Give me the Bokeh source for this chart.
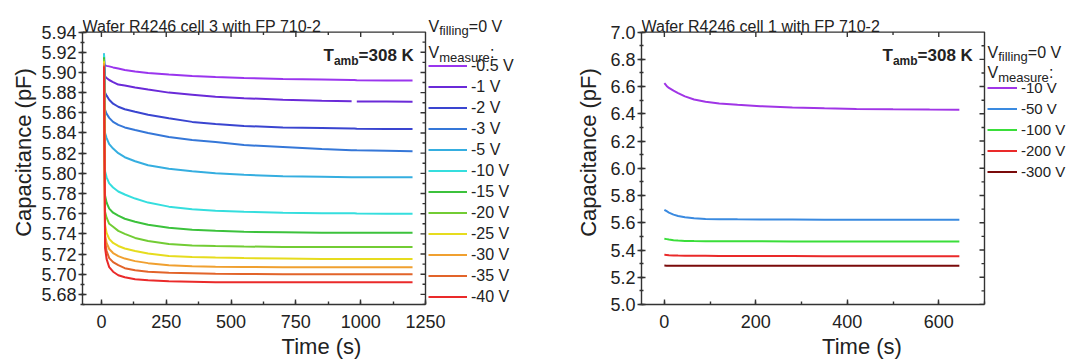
import numpy as np
from bokeh.plotting import figure
from bokeh.models import (Range1d, LinearAxis, SingleIntervalTicker, Label,
                          Legend, LegendItem, PrintfTickFormatter)
from bokeh.layouts import row
from bokeh.embed import file_html
from bokeh.resources import INLINE

nan = float("nan")
FONT = "Liberation Sans"
TXT = "#222222"
AX = "#333333"

# ---------------- data: left panel (cell 3) ----------------
LEFT_TITLE = "Wafer R4246 cell 3 with FP 710-2"
LEFT_LABELS = ["-0.5 V", "-1 V", "-2 V", "-3 V", "-5 V", "-10 V", "-15 V",
               "-20 V", "-25 V", "-30 V", "-35 V", "-40 V"]
LEFT_COLORS = ["#9a35ee", "#6a2ad8", "#3a45d0", "#3577d8", "#35aee0", "#35dede",
               "#3cc23c", "#72cc34", "#e6dc1e", "#f0a030", "#e2642a", "#ea2a2a"]
T_LEFT = [10, 14, 20, 30, 45, 65, 90, 130, 180, 260, 350, 440, 550, 700, 850,
          965, 975, 985, 1100, 1200]
C_m0p5 = [5.908, 5.907, 5.9065, 5.906, 5.905, 5.904, 5.9025, 5.901, 5.8995, 5.898,
          5.8965, 5.8955, 5.8945, 5.8935, 5.893, 5.8925, 5.8925, 5.8923, 5.892, 5.892]
C_m1 = [5.912, 5.896, 5.8945, 5.8925, 5.8905, 5.888, 5.887, 5.885, 5.883, 5.880,
        5.878, 5.876, 5.8745, 5.873, 5.872, 5.8715, nan, 5.8713, 5.8712, 5.871]
C_m2 = [5.916, 5.880, 5.877, 5.873, 5.869, 5.866, 5.8635, 5.861, 5.858, 5.8545,
        5.851, 5.849, 5.847, 5.8455, 5.845, 5.8445, 5.8445, 5.8443, 5.844, 5.844]
C_m3 = [5.918, 5.863, 5.859, 5.855, 5.851, 5.848, 5.8455, 5.843, 5.840, 5.836,
        5.833, 5.831, 5.828, 5.826, 5.824, 5.823, 5.823, 5.8228, 5.8225, 5.822]
C_m5 = [5.919, 5.840, 5.835, 5.829, 5.8245, 5.820, 5.816, 5.812, 5.808, 5.8045,
        5.802, 5.800, 5.7985, 5.797, 5.7965, 5.796, 5.796, 5.796, 5.796, 5.796]
C_m10 = [5.918, 5.802, 5.796, 5.790, 5.786, 5.782, 5.779, 5.775, 5.771, 5.767,
         5.7645, 5.763, 5.762, 5.761, 5.7605, 5.7605, 5.7605, 5.7603, 5.760, 5.760]
C_m15 = [5.915, 5.778, 5.771, 5.765, 5.761, 5.758, 5.755, 5.752, 5.749, 5.746,
         5.744, 5.743, 5.742, 5.7415, 5.741, 5.741, 5.741, 5.741, 5.741, 5.741]
C_m20 = [5.913, 5.762, 5.756, 5.750, 5.747, 5.743, 5.740, 5.736, 5.733, 5.730,
         5.7285, 5.728, 5.7275, 5.727, 5.727, 5.727, 5.727, 5.727, 5.727, 5.727]
C_m25 = [5.911, 5.749, 5.741, 5.735, 5.731, 5.728, 5.7255, 5.723, 5.7205, 5.718,
         5.717, 5.7165, 5.716, 5.7155, 5.715, 5.715, 5.715, 5.715, 5.715, 5.715]
C_m30 = [5.909, 5.739, 5.731, 5.725, 5.721, 5.718, 5.7155, 5.713, 5.711, 5.709,
         5.708, 5.7075, 5.7072, 5.707, 5.707, 5.707, 5.707, 5.707, 5.707, 5.707]
C_m35 = [5.907, 5.733, 5.723, 5.716, 5.712, 5.709, 5.706, 5.704, 5.7025, 5.7015,
         5.701, 5.7005, 5.7003, 5.700, 5.700, 5.700, 5.700, 5.700, 5.700, 5.700]
C_m40 = [5.906, 5.726, 5.715, 5.707, 5.7025, 5.699, 5.697, 5.695, 5.694, 5.693,
         5.6925, 5.692, 5.692, 5.692, 5.692, 5.692, 5.692, 5.692, 5.692, 5.692]
LEFT_SERIES = [C_m0p5, C_m1, C_m2, C_m3, C_m5, C_m10, C_m15, C_m20, C_m25,
               C_m30, C_m35, C_m40]

# ---------------- data: right panel (cell 1) ----------------
RIGHT_TITLE = "Wafer R4246 cell 1 with FP 710-2"
RIGHT_LABELS = ["-10 V", "-50 V", "-100 V", "-200 V", "-300 V"]
RIGHT_COLORS = ["#a035e6", "#3a8ae0", "#3ade3a", "#ea2a2a", "#7a0a0a"]
T_RIGHT = [0, 5, 10, 20, 30, 45, 65, 90, 120, 160, 210, 280, 350, 420, 500, 580, 645]
R_m10 = [6.625, 6.605, 6.59, 6.57, 6.552, 6.528, 6.505, 6.488, 6.476, 6.466,
         6.456, 6.447, 6.44, 6.436, 6.433, 6.431, 6.43]
R_m50 = [5.695, 5.685, 5.675, 5.66, 5.65, 5.64, 5.633, 5.628, 5.626, 5.625,
         5.624, 5.624, 5.623, 5.623, 5.622, 5.622, 5.622]
R_m100 = [5.482, 5.480, 5.477, 5.472, 5.469, 5.467, 5.466, 5.465, 5.465, 5.464,
          5.464, 5.463, 5.463, 5.463, 5.462, 5.462, 5.462]
R_m200 = [5.365, 5.364, 5.362, 5.360, 5.359, 5.358, 5.357, 5.357, 5.356, 5.356,
          5.356, 5.356, 5.355, 5.355, 5.355, 5.355, 5.355]
R_m300 = [5.286, 5.285, 5.285, 5.285, 5.285, 5.285, 5.284, 5.284, 5.284, 5.284,
          5.284, 5.284, 5.284, 5.284, 5.284, 5.284, 5.284]
RIGHT_SERIES = [R_m10, R_m50, R_m100, R_m200, R_m300]

H = 361
BOX_TOP = 32      # pixel row of the plot box top
FRAME_BOTTOM = 308
LW = 1.4


def make_panel(width, box_left, box_right, xbox, ybox, xint, yint, yfmt,
               ylab_standoff, title, labels, colors, times, series,
               vfill_y, vmeas_y, leg_top, glyph_w, leg_fs):
    fw = width - box_left
    fh = FRAME_BOTTOM
    sx = (box_right - box_left) / (xbox[1] - xbox[0])       # px per x unit
    sy = (FRAME_BOTTOM - BOX_TOP) / (ybox[1] - ybox[0])      # px per y unit
    xr = (xbox[0], xbox[0] + fw / sx)
    yr = (ybox[0], ybox[0] + fh / sy)

    p = figure(width=width, height=H, output_backend="svg", toolbar_location=None,
               x_range=Range1d(*xr), y_range=Range1d(*yr),
               x_axis_type=None, y_axis_type=None,
               min_border_left=box_left, min_border_right=0,
               min_border_top=0, min_border_bottom=H - FRAME_BOTTOM)
    p.outline_line_color = None
    p.border_fill_color = "white"

    def style(a):
        a.axis_line_color = AX
        a.axis_line_width = LW
        a.major_tick_line_color = AX
        a.major_tick_line_width = LW
        a.minor_tick_line_color = AX
        a.minor_tick_line_width = LW
        a.major_label_text_font = FONT
        a.major_label_text_font_size = "18px"
        a.major_label_text_color = TXT
        a.axis_label_text_font = FONT
        a.axis_label_text_font_size = "22px"
        a.axis_label_text_font_style = "normal"
        a.axis_label_text_color = TXT

    xb = LinearAxis(ticker=SingleIntervalTicker(interval=xint, num_minor_ticks=2),
                    axis_label="Time (s)", bounds=xbox)
    style(xb)
    xb.major_tick_in, xb.major_tick_out = 5, 0
    xb.minor_tick_in, xb.minor_tick_out = 3, 0
    xb.major_label_standoff = 10
    xb.axis_label_standoff = 3
    p.add_layout(xb, "below")

    yl = LinearAxis(ticker=SingleIntervalTicker(interval=yint, num_minor_ticks=2),
                    axis_label="Capacitance (pF)", bounds=ybox,
                    formatter=PrintfTickFormatter(format=yfmt))
    style(yl)
    yl.major_tick_in, yl.major_tick_out = 4, 4
    yl.minor_tick_in, yl.minor_tick_out = 2, 2
    yl.major_label_standoff = 2
    yl.axis_label_standoff = ylab_standoff
    p.add_layout(yl, "left")

    x0b, x1b = float(xbox[0]), float(xbox[1])
    y0b, y1b = float(ybox[0]), float(ybox[1])

    # top and right edges of the plot box plus inward mirrored ticks,
    # drawn as one broken polyline (NaN separates the pieces)
    dx, dy = 1.0 / sx, 1.0 / sy
    xmaj = np.arange(np.ceil(x0b / xint) * xint, x1b + 1e-9, xint)
    xmin = np.arange(np.ceil(x0b / (xint / 2)) * (xint / 2), x1b + 1e-9, xint / 2)
    ymaj = np.arange(np.ceil(y0b / yint - 1e-6) * yint, y1b + 1e-9, yint)
    ymin = np.arange(np.ceil(y0b / (yint / 2) - 1e-6) * (yint / 2), y1b + 1e-9, yint / 2)
    bx = [x0b, x1b, x1b, nan]
    by = [y1b, y1b, y0b, nan]
    for v in xmin:
        bx += [float(v), float(v), nan]
        by += [y1b, y1b - 3 * dy, nan]
    for v in xmaj:
        bx += [float(v), float(v), nan]
        by += [y1b, y1b - 5 * dy, nan]
    for v in ymin:
        bx += [x1b, x1b - 3 * dx, nan]
        by += [float(v), float(v), nan]
    for v in ymaj:
        bx += [x1b, x1b - 5 * dx, nan]
        by += [float(v), float(v), nan]
    p.line(bx, by, line_color=AX, line_width=LW)

    # data lines
    items = []
    for lab, col, yv in zip(labels, colors, series):
        r = p.line(times, yv, line_color=col, line_width=2)
        items.append(LegendItem(label=lab, renderers=[r]))

    def pos(cx, cy):
        return (xbox[0] + (cx - box_left) / sx, ybox[1] - (cy - BOX_TOP) / sy)

    def txt(cx, cy, text, size, bold=False):
        x, y = pos(cx, cy)
        p.add_layout(Label(x=x, y=y, text=text, text_font=FONT,
                           text_font_size=f"{size}px",
                           text_font_style="bold" if bold else "normal",
                           text_color=TXT, text_baseline="alphabetic", text_align="left"))

    # title
    txt(box_left, 26, title, 16)
    # T_amb
    tx = box_right - 102
    txt(tx, 56, "T", 17, True)
    txt(tx + 10.4, 61, "amb", 12, True)
    txt(tx + 35.1, 56, "=308 K", 17, True)
    # legend headers
    lx = box_right + 3
    txt(lx, vfill_y, "V", 16)
    txt(lx + 10.7, vfill_y + 4, "filling", 13)
    txt(lx + 40.3, vfill_y, "=0 V", 16)
    txt(lx, vmeas_y, "V", 16)
    txt(lx + 10.7, vmeas_y + 5, "measure", 13)
    txt(lx + 61.5, vmeas_y, ":", 16)

    n = len(labels)
    lg = Legend(items=items, location=(lx - box_left, FRAME_BOTTOM - (leg_top + 21 * n)),
                padding=0, margin=0, border_line_alpha=0, background_fill_alpha=0,
                glyph_width=glyph_w, glyph_height=21, label_height=21, spacing=0,
                label_standoff=4, label_text_font=FONT,
                label_text_font_size=f"{leg_fs}px", label_text_color=TXT)
    p.add_layout(lg, "center")
    return p


pl = make_panel(560, 82, 425, (-73, 1250), (5.67, 5.94), 250, 0.02, "%.2f", 2,
                LEFT_TITLE, LEFT_LABELS, LEFT_COLORS, T_LEFT, LEFT_SERIES,
                26, 53, 59, 39, 16)
pr = make_panel(522, 81, 424, (-50, 700), (5.0, 7.0), 200, 0.2, "%.1f", 6,
                RIGHT_TITLE, RIGHT_LABELS, RIGHT_COLORS, T_RIGHT, RIGHT_SERIES,
                53, 73, 81, 30, 15)

layout = row(pl, pr, spacing=0)
open("out.html", "w").write(file_html(layout, INLINE))
